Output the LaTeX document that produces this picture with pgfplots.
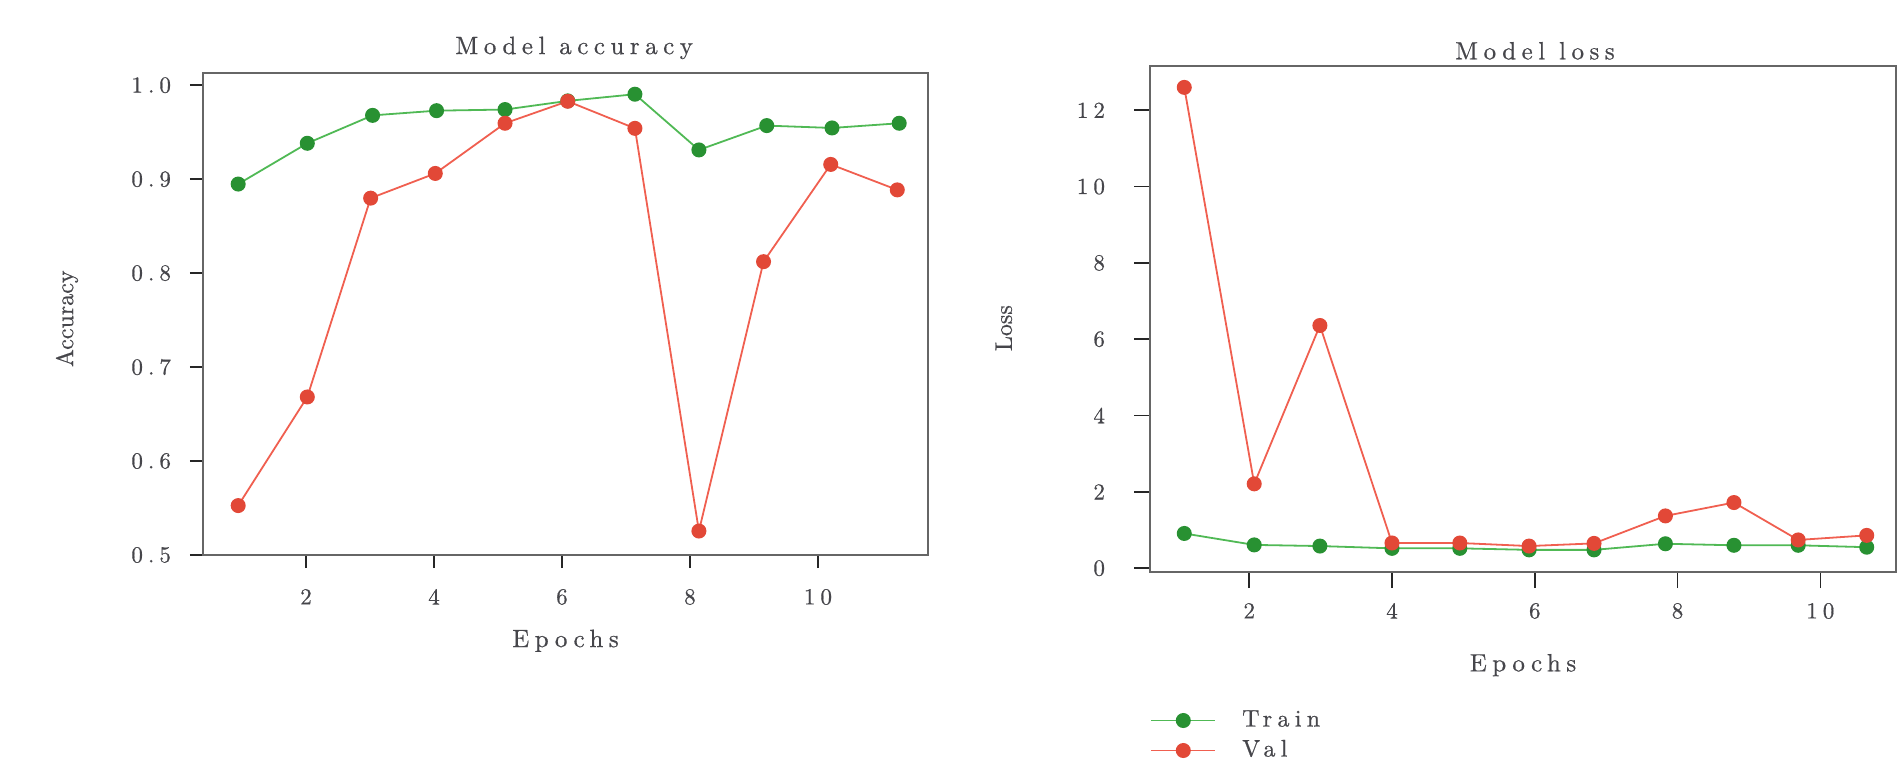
\documentclass[border=0pt]{standalone}
\usepackage{fontspec}
\setmainfont{lmroman10-regular.otf}[LetterSpace=22, FakeBold=0.6]
\newfontfamily\plainfont{lmroman10-regular.otf}[FakeBold=0.6]
\usepackage{pgfplots}
\pgfplotsset{compat=1.18}
\definecolor{trainC}{RGB}{40,145,50}
\definecolor{trainL}{RGB}{80,185,85}
\definecolor{valC}{RGB}{226,72,55}
\definecolor{valL}{RGB}{240,95,80}
\definecolor{txtC}{RGB}{70,70,75}
\pgfplotsset{
  myax/.style={
    scale only axis,
    axis line style={black!60, line width=0.8pt},
    tick style={black!85, line width=0.8pt},
    tick align=outside,
    xtick pos=lower, ytick pos=left,
    tick label style={font=\fontsize{11.5}{13}\selectfont, text=txtC},
    /pgf/number format/assume math mode=true,
    xtick={2,4,6,8,10},
    every axis title shift=0pt,
    title style={font=\fontsize{12.5}{14}\selectfont, text=txtC, anchor=center},
    xlabel style={font=\fontsize{12.5}{14}\selectfont, text=txtC, anchor=center},
    ylabel style={font=\plainfont\fontsize{12}{14}\selectfont, text=txtC, anchor=center, rotate=0},
  },
  trainP/.style={trainL, line width=0.9pt, mark=*, mark size=3.3pt, mark options={fill=trainC, draw=trainC}},
  valP/.style={valL, line width=0.9pt, mark=*, mark size=3.3pt, mark options={fill=valC, draw=valC}},
}
\begin{document}
\begin{tikzpicture}
\path[use as bounding box] (0,0) rectangle (951.5pt,381pt);
% ---------- accuracy ----------
\begin{axis}[myax,
  at={(101.5pt,103.5pt)}, anchor=south west,
  width=362.5pt, height=241pt,
  xmin=0.39, xmax=11.72, ymin=0.5, ymax=1.013,
  ytick={0.5,0.6,0.7,0.8,0.9,1.0},
  yticklabel style={xshift=-6pt, /pgf/number format/fixed, /pgf/number format/fixed zerofill, /pgf/number format/precision=1},
  xticklabel style={yshift=-7pt},
  major tick length=6.5pt,
  title={Model accuracy},
  title style={at={(axis description cs:0.512,1.052)}},
  xlabel={Epochs},
  xlabel style={at={(axis description cs:0.5,-0.178)}},
  ylabel={Accuracy},
  ylabel style={at={(axis description cs:-0.1876,0.49)}, rotate=0},
]
\addplot[trainP] coordinates {
(0.94,0.8948) (2.02,0.9382) (3.04,0.9679) (4.04,0.9729) (5.11,0.9741) (6.09,0.9833)
(7.14,0.9904) (8.14,0.9311) (9.20,0.9570) (10.22,0.9545) (11.27,0.9595)};
\addplot[valP] coordinates {
(0.94,0.5526) (2.02,0.6682) (3.01,0.8798) (4.02,0.9061) (5.11,0.9595) (6.09,0.9829)
(7.14,0.9541) (8.14,0.5255) (9.15,0.8122) (10.20,0.9157) (11.24,0.8886)};
\end{axis}
% ---------- loss ----------
\begin{axis}[myax,
  at={(575pt,95pt)}, anchor=south west,
  width=373pt, height=253pt,
  xmin=0.61, xmax=11.06, ymin=-0.1, ymax=13.16,
  ytick={0,2,4,6,8,10,12},
  major tick length=8pt,
  yticklabel style={xshift=-11pt},
  xticklabel style={yshift=-4pt},
  title={Model loss},
  title style={at={(axis description cs:0.516,1.030)}},
  xlabel={Epochs},
  xlabel style={at={(axis description cs:0.5,-0.184)}},
  ylabel={Loss},
  ylabel style={at={(axis description cs:-0.196,0.482)}},
  legend style={draw=none, fill=none, at={(axis description cs:0,-0.269)}, anchor=north west,
    inner sep=0pt, column sep=12pt, row sep=3pt,
    font=\fontsize{12}{14}\selectfont, text=txtC,
    nodes={inner sep=1pt, text height=8pt, text depth=2pt}},
  legend cell align=left,
  legend image code/.code={\draw[mark repeat=2,mark phase=2,#1] plot coordinates {(0pt,0pt) (16pt,0pt) (32pt,0pt)};},
]
\addplot[trainP] coordinates {
(1.09,0.91) (2.07,0.61) (2.99,0.58) (4.00,0.52) (4.95,0.52) (5.92,0.48)
(6.83,0.48) (7.83,0.64) (8.79,0.60) (9.69,0.60) (10.65,0.55)};
\addlegendentry{Train}
\addplot[valP] coordinates {
(1.09,12.60) (2.07,2.21) (2.99,6.36) (4.00,0.66) (4.95,0.66) (5.92,0.58)
(6.83,0.65) (7.83,1.37) (8.79,1.72) (9.69,0.74) (10.65,0.86)};
\addlegendentry{Val}
\end{axis}
\end{tikzpicture}
\end{document}
